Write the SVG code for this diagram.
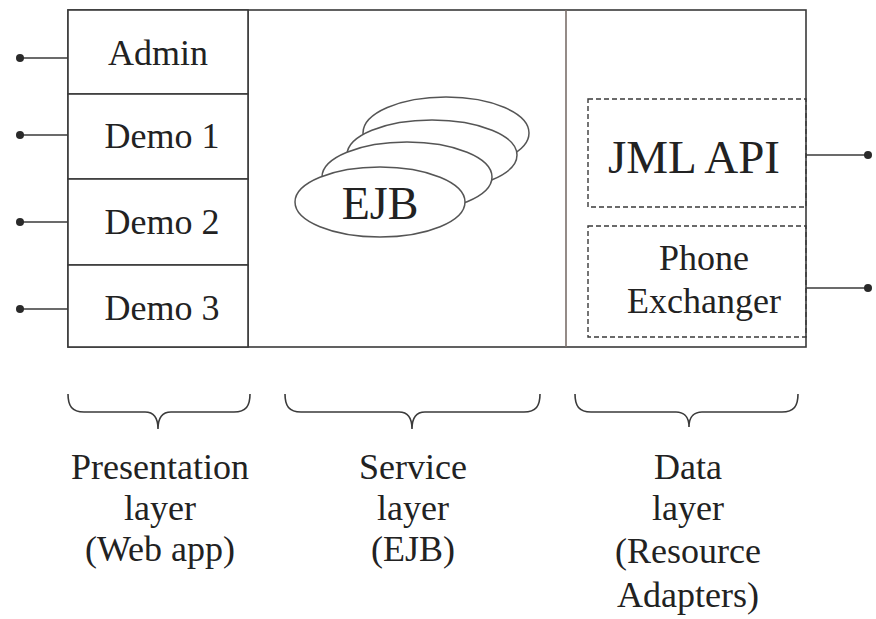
<svg xmlns="http://www.w3.org/2000/svg" width="876" height="619" viewBox="0 0 876 619">
<style>
.ln{stroke:#3a3a3a;stroke-width:1.6;fill:none}
.box{stroke:#3a3a3a;stroke-width:1.6;fill:#fff}
.dash{stroke:#3a3a3a;stroke-width:1.4;fill:none;stroke-dasharray:5,3}
.ell{stroke:#555;stroke-width:1.5;fill:#fff}
.dot{fill:#2a2a2a}
text{font-family:"Liberation Serif","Times New Roman",serif;fill:#222;text-anchor:middle}
.t36{font-size:36px}
.t46{font-size:46px}
</style>
<rect x="0" y="0" width="876" height="619" fill="#fff"/>
<g id="frame">
<rect class="box" x="68" y="10" width="738" height="337"/>
<line class="ln" x1="248" y1="10" x2="248" y2="347"/>
<line class="ln" x1="566" y1="10" x2="566" y2="347" style="stroke:#7a6f6a"/>
</g>
<g id="admin"><rect class="box" x="68" y="10" width="180" height="84"/><text class="t36" x="158" y="65">Admin</text></g>
<g id="demo1"><rect class="box" x="68" y="94" width="180" height="85"/><text class="t36" x="162" y="148">Demo 1</text></g>
<g id="demo2"><rect class="box" x="68" y="179" width="180" height="86"/><text class="t36" x="162" y="234">Demo 2</text></g>
<g id="demo3"><rect class="box" x="68" y="265" width="180" height="82"/><text class="t36" x="162" y="320">Demo 3</text></g>
<g id="ejb">
<ellipse class="ell" cx="446" cy="133" rx="83" ry="36"/>
<ellipse class="ell" cx="432" cy="155" rx="85" ry="35"/>
<ellipse class="ell" cx="407" cy="177" rx="85" ry="35"/>
<ellipse class="ell" cx="380" cy="202" rx="85" ry="35"/>
<text class="t46" x="380" y="219">EJB</text>
</g>
<g id="jml"><rect class="dash" x="588" y="99" width="218" height="108"/><text x="694" y="173" style="font-size:47px">JML API</text></g>
<g id="phone"><rect class="dash" x="588" y="226" width="218" height="111"/><text class="t36" x="704" y="270">Phone</text><text class="t36" x="704" y="313">Exchanger</text></g>
<g id="connectors">
<line class="ln" x1="20" y1="58" x2="68" y2="58"/>
<line class="ln" x1="20" y1="135" x2="68" y2="135"/>
<line class="ln" x1="20" y1="222" x2="68" y2="222"/>
<line class="ln" x1="20" y1="309" x2="68" y2="309"/>
<line class="ln" x1="806" y1="155" x2="868" y2="155"/>
<line class="ln" x1="806" y1="288" x2="868" y2="288"/>
<circle class="dot" cx="20" cy="58" r="4"/>
<circle class="dot" cx="20" cy="135" r="4"/>
<circle class="dot" cx="20" cy="222" r="4"/>
<circle class="dot" cx="20" cy="309" r="4"/>
<circle class="dot" cx="868" cy="155" r="4"/>
<circle class="dot" cx="868" cy="288" r="4"/>
</g>
<g id="braces">
<path class="ln" d="M68,394 C68,406 72,412 84,412 H145 C152,412 158,416 158,429 C158,416 164,412 171,412 H234 C246,412 250,406 250,394"/>
<path class="ln" d="M285,394 C285,406 289,412 301,412 H399 C406,412 412,416 412,429 C412,416 418,412 425,412 H524 C536,412 540,406 540,394"/>
<path class="ln" d="M575,394 C575,406 579,412 591,412 H676 C683,412 689,416 689,427 C689,416 695,412 702,412 H782 C794,412 798,406 798,394"/>
</g>
<g id="labels">
<text class="t36" x="160" y="479">Presentation</text>
<text class="t36" x="160" y="520">layer</text>
<text class="t36" x="160" y="561">(Web app)</text>
<text class="t36" x="413" y="479">Service</text>
<text class="t36" x="413" y="520">layer</text>
<text class="t36" x="413" y="561">(EJB)</text>
<text class="t36" x="688" y="479">Data</text>
<text class="t36" x="688" y="520">layer</text>
<text class="t36" x="688" y="563">(Resource</text>
<text class="t36" x="688" y="607">Adapters)</text>
</g>
</svg>
